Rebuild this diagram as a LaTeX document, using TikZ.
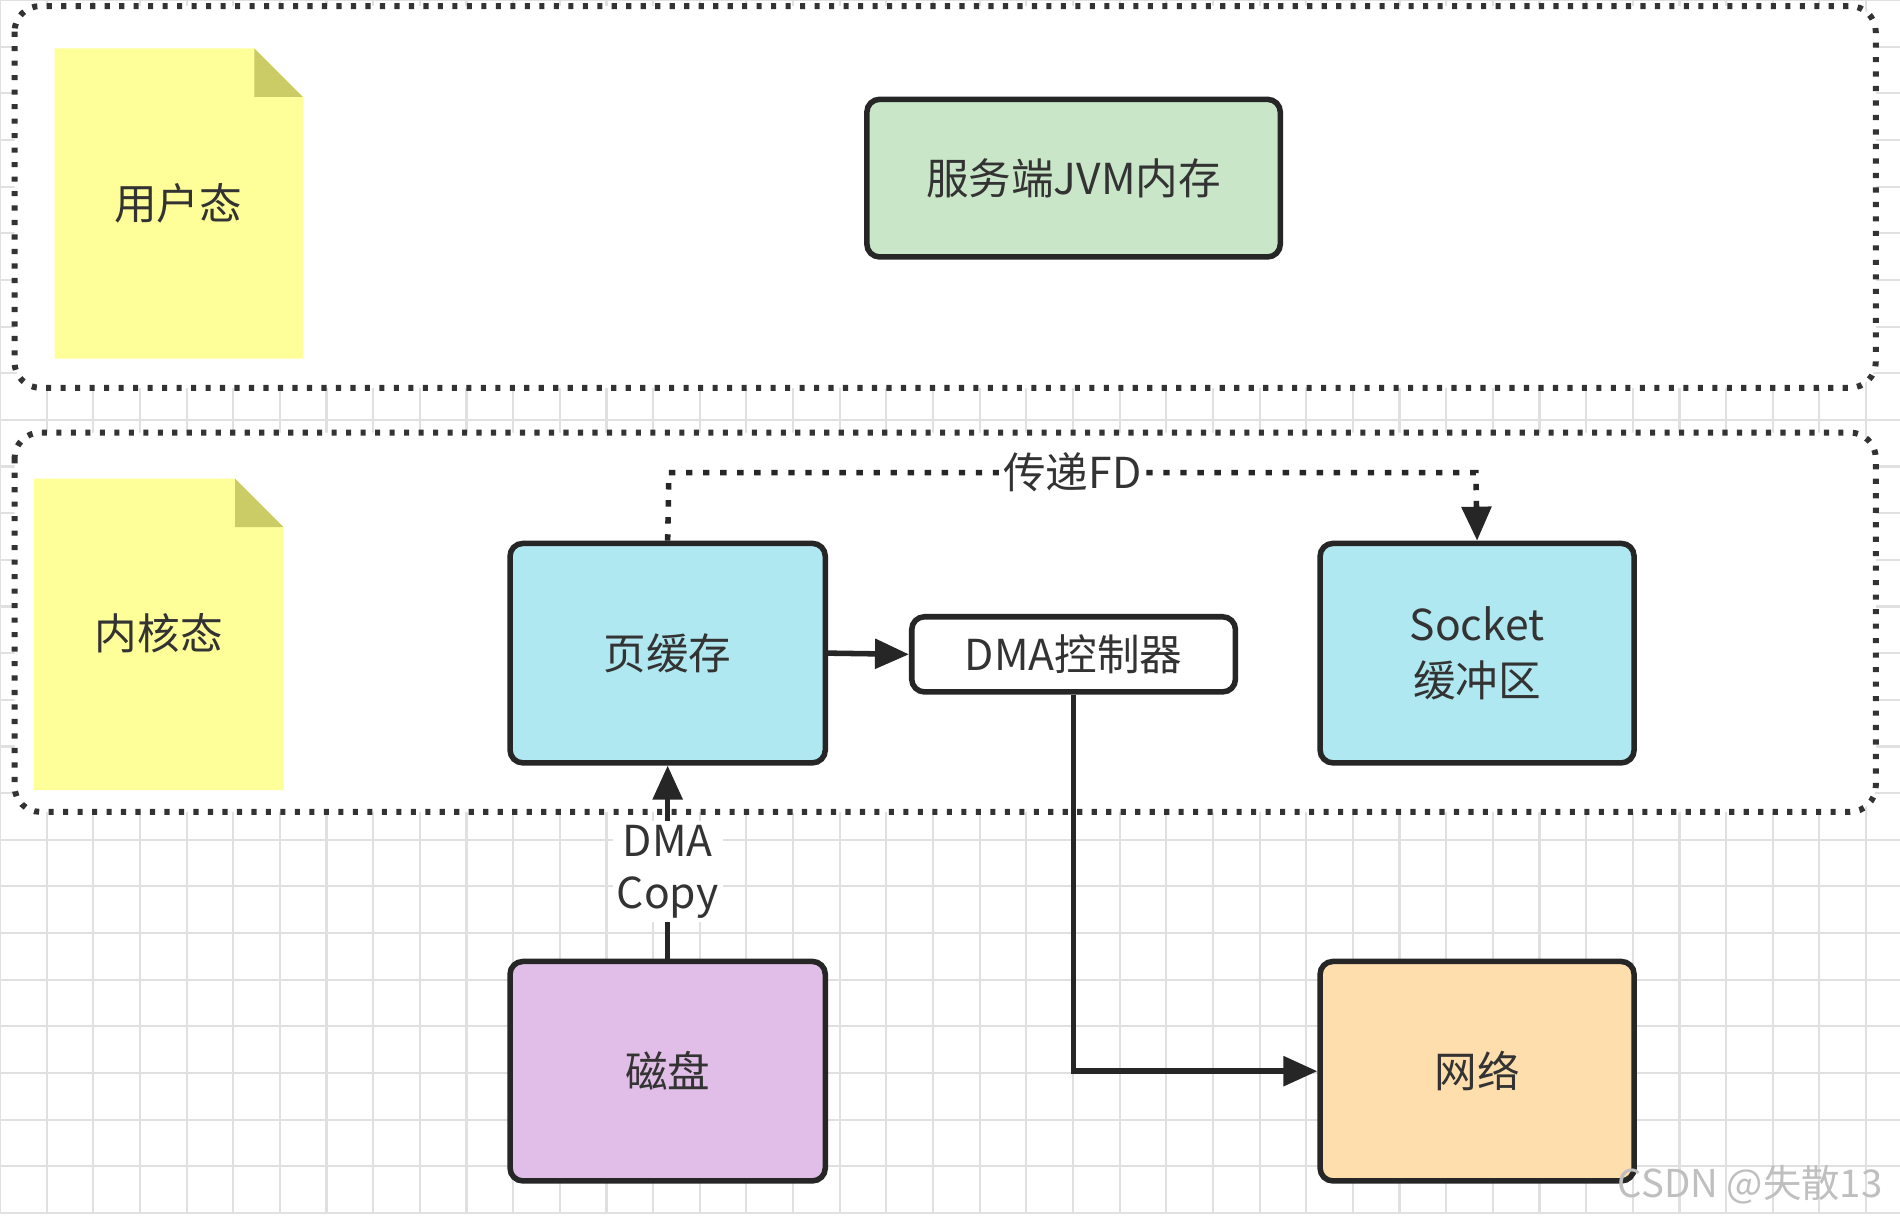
\documentclass[tikz,border=0pt]{standalone}
\usepackage{fontspec}
\setmainfont{Noto Sans CJK SC}
\usetikzlibrary{arrows.meta}
\definecolor{noteY}{HTML}{FFFF99}
\definecolor{noteF}{HTML}{CCCC66}
\begin{document}
\begin{tikzpicture}[x=0.01cm,y=-0.01cm,
  box/.style={draw=black!85,line width=1.3pt,rounded corners=3pt,font=\fontsize{10}{13}\selectfont,align=center,text=black!80},
  cont/.style={draw=black!80,line width=1.4pt,dash pattern=on 1.2pt off 2.2pt,rounded corners=6pt,fill=white},
  arr/.style={line width=1.3pt,draw=black!85,-{Triangle[length=0.28cm,width=0.24cm]}},
  lbl/.style={font=\fontsize{10}{13}\selectfont,text=black!80}]
\useasboundingbox (0,0) rectangle (1568,1005);
\fill[white] (0,0) rectangle (1568,1005);
\foreach \i in {0,...,40} {\draw[black!12,line width=0.5pt] (\i*38.5,0) -- (\i*38.5,1000);}
\foreach \j in {0,...,26} {\draw[black!12,line width=0.5pt] (0,\j*38.5) -- (1568,\j*38.5);}
\draw[cont] (12,5) rectangle (1548,320);
\draw[cont] (12,357) rectangle (1548,670);
% notes
\fill[noteY] (45,40) -- (210,40) -- (250,80) -- (250,296) -- (45,296) -- cycle;
\fill[noteF] (210,40) -- (250,80) -- (210,80) -- cycle;
\node[lbl] (n1) at (147,168) {用户态};
\fill[noteY] (28,395) -- (194,395) -- (234,435) -- (234,652) -- (28,652) -- cycle;
\fill[noteF] (194,395) -- (234,435) -- (194,435) -- cycle;
\node[lbl] (n2) at (131,523) {内核态};
% boxes
\node[box,fill={rgb,255:red,201;green,230;blue,201},minimum width=3.41cm,minimum height=1.3cm] (jvm) at (886,147) {服务端JVM内存};
\node[box,fill={rgb,255:red,176;green,232;blue,241},minimum width=2.6cm,minimum height=1.81cm] (page) at (551,539) {页缓存};
\node[box,fill=white,minimum width=2.67cm,minimum height=0.62cm] (dma) at (886,540) {DMA控制器};
\node[box,fill={rgb,255:red,176;green,232;blue,241},minimum width=2.59cm,minimum height=1.81cm] (sock) at (1219,539) {Socket\\缓冲区};
\node[box,fill={rgb,255:red,225;green,190;blue,231},minimum width=2.6cm,minimum height=1.81cm] (disk) at (551,884) {磁盘};
\node[box,fill={rgb,255:red,255;green,222;blue,173},minimum width=2.59cm,minimum height=1.81cm] (net) at (1219,884) {网络};
% connectors
\draw[arr] (disk.north) -- node[lbl,fill=white,align=center,inner sep=1pt,font=\fontsize{10}{12}\selectfont,pos=0.45] {DMA\\Copy} (page.south);
\draw[arr] (page.east) -- (dma.west);
\coordinate (c1) at (886,884);
\draw[arr] (dma.south) -- (c1) -- (net.west);
\coordinate (d1) at (552,390);
\coordinate (d2) at (1218,390);
\draw[arr,dash pattern=on 1.5pt off 2.5pt] (page.north) -- (d1) -- node[lbl,fill=white,inner sep=1pt] {传递FD} (d2) -- (sock.north);
\node[text=black!25,font=\fontsize{9}{11}\selectfont,anchor=east] (wm) at (1566,978) {CSDN @失散13};
\end{tikzpicture}
\end{document}
